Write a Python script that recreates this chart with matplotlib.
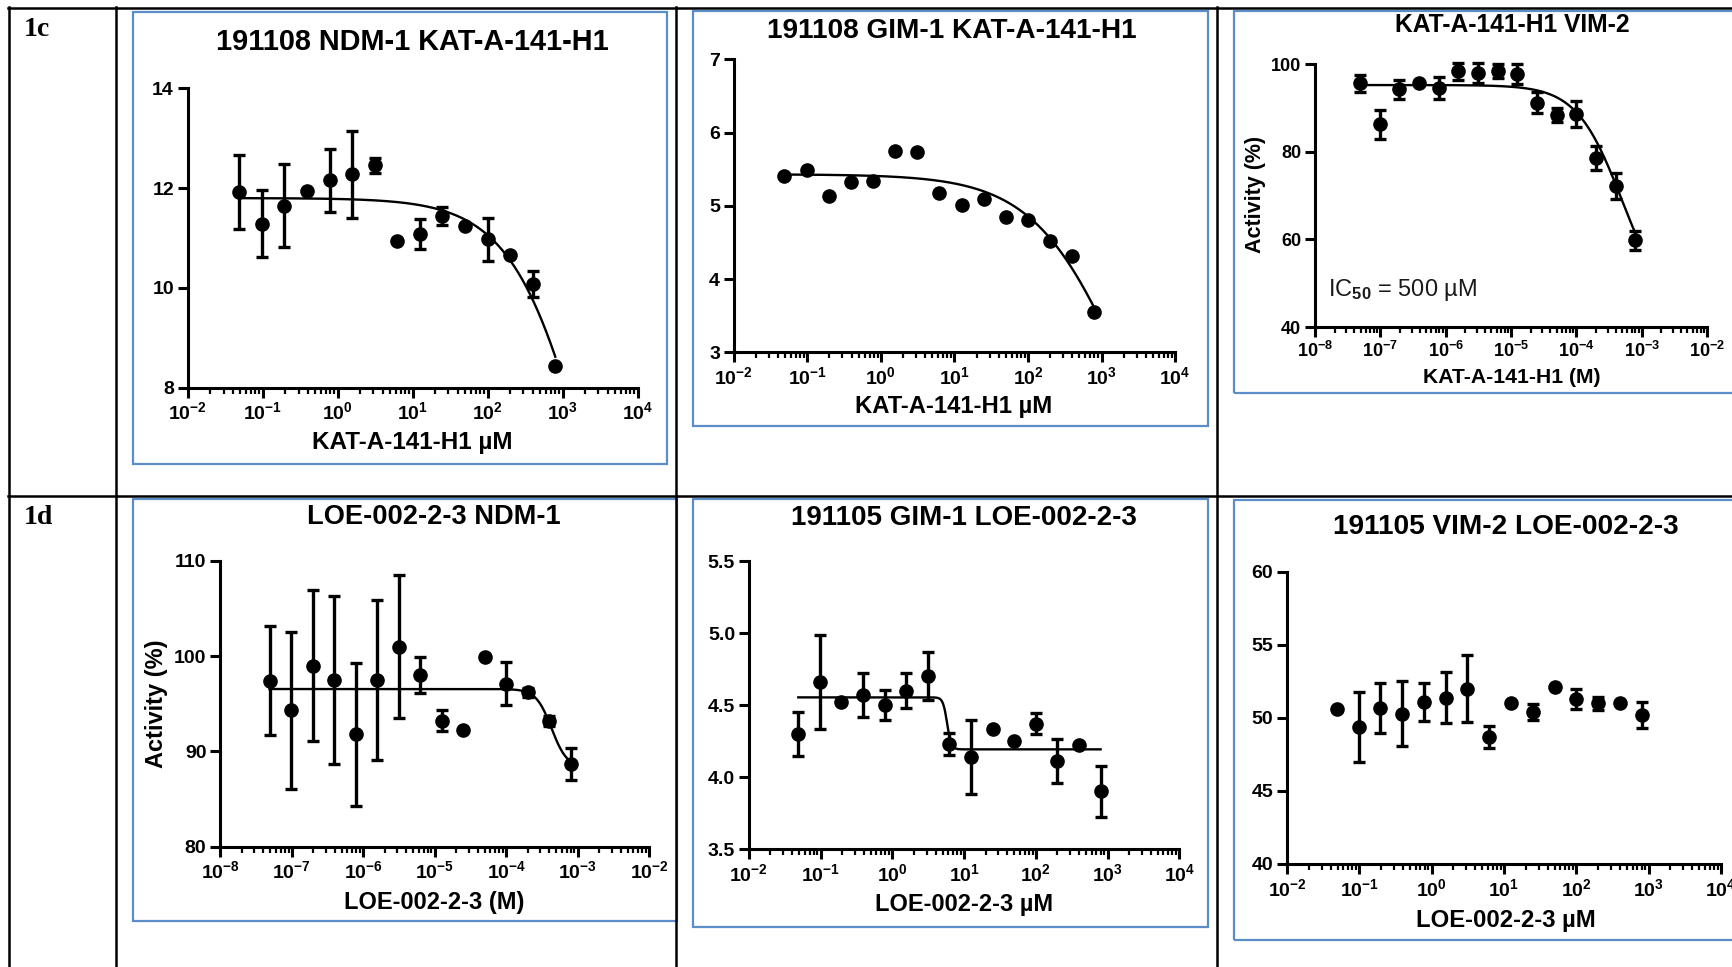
import numpy as np
import matplotlib
matplotlib.use("Agg")
import matplotlib.pyplot as plt
from matplotlib.lines import Line2D
from matplotlib.patches import Rectangle
from matplotlib.ticker import LogLocator, FuncFormatter, NullFormatter

plt.rcParams['font.family'] = ['Liberation Sans', 'DejaVu Sans']
plt.rcParams['font.weight'] = 'bold'
plt.rcParams['mathtext.fontset'] = 'custom'
plt.rcParams['mathtext.rm'] = 'Liberation Sans'
plt.rcParams['mathtext.bf'] = 'Liberation Sans:bold'
plt.rcParams['mathtext.it'] = 'Liberation Sans:italic'

W, H = 1732, 967
fig = plt.figure(figsize=(W / 100, H / 100), dpi=100)

# two-fold dilution series (µM), highest concentration last
conc_uM = np.array([0.0488, 0.0977, 0.195, 0.391, 0.781, 1.5625, 3.125,
                    6.25, 12.5, 25, 50, 100, 200, 400, 800])
conc_M = conc_uM * 1e-6

# 1c: KAT-A-141-H1
ndm1_kat = [11.92, 11.29, 11.65, 11.95, 12.16, 12.28, 12.46, 10.94,
            11.08, 11.44, 11.25, 10.97, 10.66, 10.08, 8.44]
ndm1_kat_err = [0.74, 0.67, 0.84, 0.0, 0.63, 0.87, 0.15, 0.0,
                0.30, 0.18, 0.0, 0.43, 0.0, 0.26, 0.0]
gim1_kat = [5.41, 5.49, 5.13, 5.33, 5.34, 5.75, 5.73, 5.17,
            5.01, 5.09, 4.85, 4.81, 4.52, 4.31, 3.55]
vim2_kat = [95.6, 86.2, 94.2, 95.7, 94.6, 98.3, 97.9, 98.3,
            97.7, 91.2, 88.4, 88.6, 78.5, 72.2, 59.8]
vim2_kat_err = [1.9, 3.2, 2.1, 0.0, 2.5, 2.0, 2.3, 1.6,
                2.2, 2.3, 1.6, 2.9, 2.7, 3.0, 2.2]

# 1d: LOE-002-2-3
ndm1_loe = [97.4, 94.3, 99.0, 97.5, 91.8, 97.5, 101.0, 98.0,
            93.2, 92.2, 99.9, 97.1, 96.2, 93.2, 88.7]
ndm1_loe_err = [5.7, 8.2, 7.9, 8.8, 7.5, 8.4, 7.5, 1.85,
                1.1, 0.0, 0.0, 2.25, 0.45, 0.55, 1.7]
gim1_loe = [4.30, 4.66, 4.52, 4.57, 4.50, 4.60, 4.70, 4.23,
            4.14, 4.33, 4.25, 4.37, 4.11, 4.22, 3.90]
gim1_loe_err = [0.154, 0.324, 0.0, 0.15, 0.104, 0.12, 0.167, 0.075,
                0.257, 0.0, 0.0, 0.073, 0.155, 0.0, 0.176]
vim2_loe = [50.6, 49.4, 50.7, 50.3, 51.1, 51.4, 52.0, 48.7,
            51.0, 50.4, 52.1, 51.3, 51.0, 51.0, 50.2]
vim2_loe_err = [0.0, 2.4, 1.7, 2.2, 1.3, 1.75, 2.3, 0.75,
                0.0, 0.55, 0.0, 0.7, 0.45, 0.0, 0.9]

# four-parameter logistic fits: top, bottom, IC50, Hill slope
fit_ndm1_kat = (11.8, 0.0, 2700.0, 0.82)
fit_gim1_kat = (5.43, 0.0, 2115.0, 0.70)
fit_vim2_kat = (95.2, 42.6, 5e-4, 1.25)
fit_ndm1_loe = (96.54, 88.3, 4.3e-4, 4.0)
fit_gim1_loe = (4.553, 4.192, 5.8, 15.0)

FRAME = '#5B8DC8'


def px_axes(x0, x1, ytop, ybot):
    return fig.add_axes([x0 / W, 1 - ybot / H, (x1 - x0) / W, (ybot - ytop) / H])


def ftext(x, y, s, **kw):
    kw.setdefault('ha', 'center')
    kw.setdefault('va', 'center')
    return fig.text(x / W, 1 - y / H, s, **kw)


def frame(x0, y0, x1, y1):
    fig.add_artist(Rectangle((x0 / W, 1 - y1 / H), (x1 - x0) / W, (y1 - y0) / H,
                             transform=fig.transFigure, fill=False, ec=FRAME, lw=1.6))


def hline(y, x0, x1):
    fig.add_artist(Line2D([x0 / W, x1 / W], [1 - y / H, 1 - y / H],
                          transform=fig.transFigure, color='black', lw=1.8))


def vline(x, y0, y1):
    fig.add_artist(Line2D([x / W, x / W], [1 - y0 / H, 1 - y1 / H],
                          transform=fig.transFigure, color='black', lw=1.8))


def logistic(x, top, bottom, ic50, h):
    return bottom + (top - bottom) / (1 + (x / ic50) ** h)


def style(ax, xlim, ylim, yticks, yfmt, size=14):
    ax.set_xscale('log')
    ax.set_xlim(xlim)
    ax.set_ylim(ylim)
    ax.patch.set_alpha(0)
    for s in ('top', 'right'):
        ax.spines[s].set_visible(False)
    for s in ('left', 'bottom'):
        ax.spines[s].set_linewidth(2.2)
    ax.xaxis.set_major_locator(LogLocator(base=10, numticks=20))
    ax.xaxis.set_minor_locator(LogLocator(base=10, subs=np.arange(2, 10), numticks=100))
    ax.xaxis.set_major_formatter(FuncFormatter(
        lambda v, p: r'$\mathbf{10^{%d}}$' % int(round(np.log10(v)))))
    ax.xaxis.set_minor_formatter(NullFormatter())
    ax.set_yticks(yticks)
    ax.yaxis.set_major_formatter(FuncFormatter(lambda v, p: yfmt % v))
    ax.tick_params(which='major', direction='out', length=7, width=2.2,
                   labelsize=size, pad=3)
    ax.tick_params(which='minor', direction='out', length=4, width=1.6)


def draw(ax, x, y, err=None, fit=None):
    if fit is not None:
        xs = np.logspace(np.log10(x[0]), np.log10(x[-1]), 400)
        ax.plot(xs, logistic(xs, *fit), color='black', lw=1.7, zorder=2)
    if err is None:
        ax.plot(x, y, 'o', color='black', ms=9.5, zorder=3, clip_on=False)
    else:
        ax.errorbar(x, y, yerr=err, fmt='o', color='black', ms=9.5, capsize=4.5,
                    elinewidth=2.4, capthick=2.4, zorder=3, clip_on=False)


# table grid
hline(7.5, 8, W)
hline(496, 8, W)
for xv in (8.5, 116, 676, 1217):
    vline(xv, 7, H)
ftext(24, 29, '1c', ha='left', family=['Liberation Serif'], fontsize=20)
ftext(24, 517, '1d', ha='left', family=['Liberation Serif'], fontsize=20)

# panel frames
frame(133, 11.7, 666.5, 464)
frame(692.8, 11, 1207.7, 426)
frame(1234, 11, 1745, 393)
frame(133, 499.3, 676.5, 921)
frame(692.8, 499, 1207.7, 926.7)
frame(1234, 500, 1745, 940)

# 1c NDM-1
ax1 = px_axes(187.8, 637.5, 88.3, 387.7)
style(ax1, (1e-2, 1e4), (8, 14), [8, 10, 12, 14], '%d')
draw(ax1, conc_uM, ndm1_kat, ndm1_kat_err, fit_ndm1_kat)
ftext(412, 42, '191108 NDM-1 KAT-A-141-H1', fontsize=20.8)
ftext(412, 443, 'KAT-A-141-H1 µM', fontsize=17.5)

# 1c GIM-1
ax2 = px_axes(733.8, 1175.1, 59.3, 352.3)
style(ax2, (1e-2, 1e4), (3, 7), [3, 4, 5, 6, 7], '%d')
draw(ax2, conc_uM, gim1_kat, None, fit_gim1_kat)
ftext(952, 31.5, '191108 GIM-1 KAT-A-141-H1', fontsize=20.2)
ftext(954, 406.5, 'KAT-A-141-H1 µM', fontsize=17.2)

# 1c VIM-2
ax3 = px_axes(1315, 1707, 64, 327)
style(ax3, (1e-8, 1e-2), (40, 100), [40, 60, 80, 100], '%d', size=13)
draw(ax3, conc_M, vim2_kat, vim2_kat_err, fit_vim2_kat)
ftext(1512, 25, 'KAT-A-141-H1 VIM-2', fontsize=17.7)
ftext(1512, 377, 'KAT-A-141-H1 (M)', fontsize=15.2)
ftext(1255, 194, 'Activity (%)', rotation=90, fontsize=15.5)
ax3.text(0.033, 0.14, r'IC$_{\mathrm{50}}$ = 500 µM', transform=ax3.transAxes,
         fontsize=17, fontweight='normal', color='#1a1a1a', va='center', ha='left')

# 1d NDM-1
ax4 = px_axes(220.3, 649.2, 560.7, 846.7)
style(ax4, (1e-8, 1e-2), (80, 110), [80, 90, 100, 110], '%d')
draw(ax4, conc_M, ndm1_loe, ndm1_loe_err, fit_ndm1_loe)
ftext(434, 517, 'LOE-002-2-3 NDM-1', fontsize=19.6)
ftext(434, 902, 'LOE-002-2-3 (M)', fontsize=17)
ftext(156, 704, 'Activity (%)', rotation=90, fontsize=17)

# 1d GIM-1
ax5 = px_axes(748.9, 1179.3, 561, 849)
style(ax5, (1e-2, 1e4), (3.5, 5.5), [3.5, 4.0, 4.5, 5.0, 5.5], '%.1f')
draw(ax5, conc_uM, gim1_loe, gim1_loe_err, fit_gim1_loe)
ftext(964, 518, '191105 GIM-1 LOE-002-2-3', fontsize=20)
ftext(964.5, 904, 'LOE-002-2-3 µM', fontsize=17)

# 1d VIM-2
ax6 = px_axes(1287, 1721, 572, 864)
style(ax6, (1e-2, 1e4), (40, 60), [40, 45, 50, 55, 60], '%d')
draw(ax6, conc_uM, vim2_loe, vim2_loe_err)
ftext(1506, 527, '191105 VIM-2 LOE-002-2-3', fontsize=20.2)
ftext(1506, 920, 'LOE-002-2-3 µM', fontsize=17.2)

fig.savefig('out.png', dpi=100)
